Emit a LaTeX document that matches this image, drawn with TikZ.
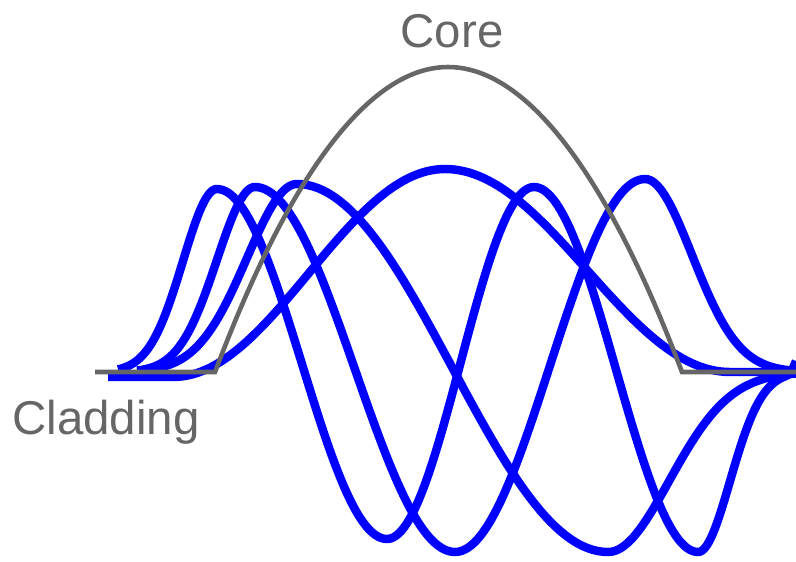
\documentclass[tikz,border=0pt]{standalone}
\usepackage{fontspec}
\setmainfont{Liberation Sans}
\usepackage{tikz}
\usetikzlibrary{positioning}
\definecolor{modeblue}{RGB}{0,0,255}
\definecolor{profilegray}{RGB}{102,102,102}
\tikzset{
    modecurve/.style={
        draw=modeblue,
        line width=4.8pt,
        line join=round,
        samples=60
    },
    coreprofile/.style={
        draw=profilegray,
        line width=2.6pt
    },
    labeltext/.style={
        text=profilegray,
        font=\fontsize{27}{31}\selectfont,
        inner sep=0pt,
        anchor=base
    },
    % half lobe between two extrema, and a decaying tail
    declare function={
        seg(\x,\a,\b,\va,\vb)=((\va+\vb)+(\va-\vb)*cos(180*((\x-\a)/(\b-\a))))/2;
        tail(\x,\e,\v,\s)=\v*exp(-0.5*((\x-\e)/\s)^2);
    }
}
\begin{document}
\begin{tikzpicture}[x=0.02cm,y=-0.02cm]
        \useasboundingbox (0,0) rectangle (796,562);
        
        % Fundamental mode
        \draw[modecurve] (108,377) -- plot[domain=173:445] (\x,{377-seg(\x,173,445,0,208)})
            -- plot[domain=445:730] (\x,{372-seg(\x,445,730,203,0)}) -- (796,372);
        
        % Two-lobe mode
        \draw[modecurve] plot[domain=150:297] (\x,{372-tail(\x,297,188,50)})
            -- plot[domain=297:608] (\x,{372-seg(\x,297,608,188,-180)})
            -- plot[domain=608:796] (\x,{372-tail(\x,608,-180,61)});
        
        % Three-lobe mode
        \draw[modecurve] plot[domain=137:255] (\x,{372-tail(\x,255,185,38)})
            -- plot[domain=255:455] (\x,{372-seg(\x,255,455,185,-180)})
            -- plot[domain=455:645] (\x,{372-seg(\x,455,645,-180,193)})
            -- plot[domain=645:796] (\x,{372-tail(\x,645,193,47)});
        
        % Four-lobe mode
        \draw[modecurve] plot[domain=118:217] (\x,{372-tail(\x,217,183,34)})
            -- plot[domain=217:387] (\x,{372-seg(\x,217,387,183,-167)})
            -- plot[domain=387:534] (\x,{372-seg(\x,387,534,-167,185)})
            -- plot[domain=534:698] (\x,{372-seg(\x,534,698,185,-180)})
            -- plot[domain=698:785] (\x,{372-tail(\x,698,-180,32)})
            .. controls (790,376) and (793,368) .. (796,361);
        
        % Index profile
        \draw[coreprofile] (95,372) -- (215,372) parabola bend (448,67) (682,372) -- (796,372);
        
        % Labels
        \node[labeltext] (core) at (452,47) {Core};
        \node[labeltext] (cladding) at (106,434) {Cladding};
    \end{tikzpicture}
\end{document}
